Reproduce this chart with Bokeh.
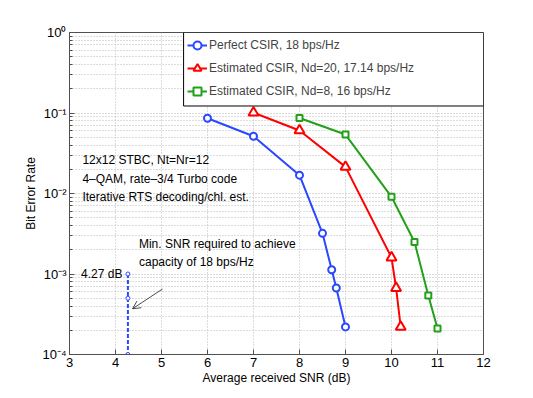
from bokeh.plotting import figure
from bokeh.models import (Range1d, FixedTicker, Legend, LegendItem,
                          Label, Arrow, OpenHead, BoxAnnotation)
from bokeh.embed import file_html
from bokeh.resources import INLINE

# ---- data ----
snr_perfect = [6, 7, 8, 8.5, 8.7, 8.8, 9]
ber_perfect = [0.086, 0.0515, 0.0169, 0.0032, 0.00113, 0.00067, 0.00022]
snr_nd20 = [7, 8, 9, 10, 10.1, 10.2]
ber_nd20 = [0.101, 0.0607, 0.0214, 0.0016, 0.00067, 0.00022]
snr_nd8 = [8, 9, 10, 10.5, 10.8, 11]
ber_nd8 = [0.0867, 0.054, 0.0091, 0.0025, 0.00054, 0.00021]
cap_snr = [4.27, 4.27, 4.27]
cap_ber = [1e-3, 5e-4, 1e-4]

x_ticks = [3, 4, 5, 6, 7, 8, 9, 10, 11, 12]
y_ticks = [1e-4, 1e-3, 1e-2, 1e-1, 1]
y_tick_labels = {1e-4: "10\u207b\u2074", 1e-3: "10\u207b\u00b3", 1e-2: "10\u207b\u00b2",
                 1e-1: "10\u207b\u00b9", 1: "10\u2070"}
y_minor = [m * 10.0 ** e for e in range(-4, 0) for m in range(2, 10)]

labels = ["Perfect CSIR, 18 bps/Hz",
          "Estimated CSIR, Nd=20, 17.14 bps/Hz",
          "Estimated CSIR, Nd=8, 16 bps/Hz"]

FONT = "Liberation Sans"
FS = "12px"
TFS = "13px"
BLUE = "#2a48ff"
RED = "#ff0000"
GREEN = "#22a01a"
GRID = "#b8b8b8"
FRAME = "#505050"

p = figure(width=533, height=398, y_axis_type="log",
           x_range=Range1d(3, 12), y_range=Range1d(1e-4, 1),
           output_backend="svg", toolbar_location=None,
           min_border_left=69, min_border_right=50, min_border_top=32, min_border_bottom=44)
p.outline_line_color = FRAME
p.outline_line_width = 1

# axes
xa = p.xaxis[0]
xa.ticker = FixedTicker(ticks=x_ticks, minor_ticks=[])
xa.axis_label = "Average received SNR (dB)"
ya = p.yaxis[0]
ya.ticker = FixedTicker(ticks=y_ticks, minor_ticks=y_minor)
ya.major_label_overrides = y_tick_labels
ya.axis_label = "Bit Error Rate"
for ax in (xa, ya):
    ax.major_label_text_font = FONT
    ax.major_label_text_font_size = TFS
    ax.major_label_text_color = "black"
    ax.axis_label_text_font = FONT
    ax.axis_label_text_font_size = FS
    ax.axis_label_text_font_style = "normal"
    ax.axis_label_text_color = "black"
    ax.axis_line_color = FRAME
    ax.major_tick_line_color = FRAME
    ax.minor_tick_line_color = FRAME
    ax.major_tick_in = 5
    ax.major_tick_out = 0
    ax.minor_tick_in = 3
    ax.minor_tick_out = 0
    ax.major_label_standoff = 3
    ax.axis_label_standoff = 1

# grid
p.xgrid.ticker = FixedTicker(ticks=x_ticks)
p.ygrid.ticker = FixedTicker(ticks=y_ticks, minor_ticks=y_minor)
for g in (p.xgrid[0], p.ygrid[0]):
    g.grid_line_color = GRID
    g.grid_line_dash = "1 2"
    g.grid_line_width = 1
p.ygrid.minor_grid_line_color = GRID
p.ygrid.minor_grid_line_dash = "1 2"

# data
l1 = p.line(snr_perfect, ber_perfect, line_color=BLUE, line_width=2)
m1 = p.scatter(snr_perfect, ber_perfect, marker="circle", size=7, line_color=BLUE,
               line_width=2, fill_color="white")
l2 = p.line(snr_nd20, ber_nd20, line_color=RED, line_width=2)
m2 = p.scatter(snr_nd20, ber_nd20, marker="triangle", size=10, line_color=RED,
               line_width=2, fill_color="white")
l3 = p.line(snr_nd8, ber_nd8, line_color=GREEN, line_width=2)
m3 = p.scatter(snr_nd8, ber_nd8, marker="square", size=6, line_color=GREEN,
               line_width=2, fill_color="white")

p.line(cap_snr, cap_ber, line_color=BLUE, line_width=2, line_dash="4 2")
p.scatter(cap_snr, cap_ber, marker="circle", size=4, line_color=BLUE, line_width=1,
          fill_color="white")

# text annotations
def lab(x, y, t, align="left"):
    p.add_layout(Label(x=x, y=y, text=t, text_font=FONT, text_font_size=FS,
                       text_baseline="middle", text_align=align, text_color="black"))

lab(3.28, 10 ** -1.588, "12x12 STBC, Nt=Nr=12")
lab(3.28, 10 ** -1.821, "4\u2013QAM, rate\u20133/4 Turbo code")
lab(3.28, 10 ** -2.049, "Iterative RTS decoding/chl. est.")
lab(4.51, 10 ** -2.624, "Min. SNR required to achieve")
lab(4.51, 10 ** -2.846, "capacity of 18 bps/Hz")
lab(4.15, 1e-3, "4.27 dB", align="right")

p.add_layout(Arrow(x_start=5.02, y_start=6.5e-4, x_end=4.37, y_end=3.7e-4,
                   line_color="black", line_width=0.7,
                   end=OpenHead(size=8, line_color="black", line_width=0.7)))

# legend box + legend
p.add_layout(BoxAnnotation(left=5.48, right=12, bottom=10 ** -0.913, top=1.0,
                           fill_color="white", fill_alpha=1, line_color="black",
                           line_width=1, line_alpha=1, level="annotation"))
legend = Legend(items=[LegendItem(label=labels[0], renderers=[l1, m1]),
                       LegendItem(label=labels[1], renderers=[l2, m2]),
                       LegendItem(label=labels[2], renderers=[l3, m3])],
                location=(114, 249), background_fill_alpha=0, border_line_alpha=0,
                padding=4, spacing=3, glyph_width=20, glyph_height=20, label_height=20,
                label_standoff=2, label_text_font=FONT, label_text_font_size=FS,
                margin=0)
p.add_layout(legend)

open("out.html", "w").write(file_html(p, INLINE))
